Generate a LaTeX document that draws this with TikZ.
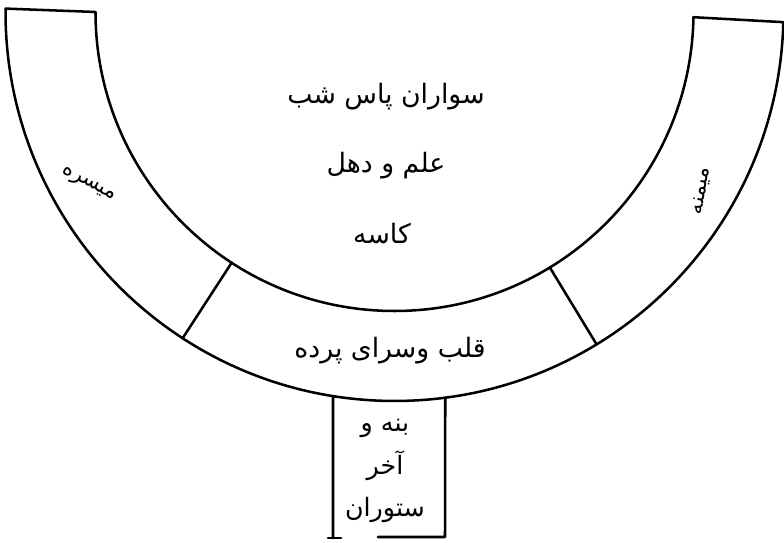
\documentclass[tikz,border=0pt]{standalone}
\usepackage{fontspec}
\usepackage{tikz}
\usetikzlibrary{positioning, calc}
\TeXXeTstate=1
\newfontfamily\arabicfont[Script=Arabic]{DejaVu Sans}
\tikzset{
  band line/.style={line width=1.8pt, line cap=round, line join=round},
  farsi/.style={font=\arabicfont\fontsize{19}{24}\selectfont, inner sep=1pt, align=center},
  wing/.style={farsi, font=\arabicfont\fontsize{15}{18}\selectfont},
}

\begin{document}
\begin{tikzpicture}[x=0.025cm, y=0.025cm]
    \useasboundingbox (0,0) rectangle (784,543);
    \coordinate (ctr) at (394.5,531);
    \coordinate (outL) at ($(ctr)+(179.5:389)$);
    \coordinate (inL) at ($(ctr)+(180:299)$);
    \coordinate (inR) at ($(ctr)+(359:299)$);
    \coordinate (outR) at ($(ctr)+(358.5:389)$);
    \draw[band line] (outL) -- (inL) arc[start angle=180, end angle=359, radius=299]
      -- (outR) arc[start angle=358.5, end angle=179.5, radius=389] -- cycle;
    \coordinate (divLin) at ($(ctr)+(237:299)$);
    \coordinate (divLout) at ($(ctr)+(237:389)$);
    \coordinate (divRin) at ($(ctr)+(301.3:299)$);
    \coordinate (divRout) at ($(ctr)+(301.3:389)$);
    \draw[band line] (divLin) -- (divLout);
    \draw[band line] (divRin) -- (divRout);
    \coordinate (stemL) at ($(ctr)+(260.9:389)$);
    \coordinate (stemR) at ($(ctr)+(277.5:389)$);
    \coordinate (footL) at (333,5);
    \coordinate (footR) at (445,6);
    \draw[band line] (stemL) -- (footL);
    \draw[band line] ($(footL)+(-5,0)$) -- ($(footL)+(8,0)$);
    \draw[band line] (stemR) -- (footR) -- (378,6);
    \node[farsi] (riders) at (386,446) {\beginR سواران پاس شب\endR};
    \node[farsi] (banner) at (386,377) {\beginR علم و دهل\endR};
    \node[farsi] (kettle) at (382,309) {\beginR کاسه\endR};
    \node[wing, rotate=-28] (leftwing) at (88,358) {\beginR میسره\endR};
    \node[wing, rotate=80] (rightwing) at (702,352) {\beginR میمنه\endR};
    \node[farsi] (centre) at (390,192) {\beginR قلب وسرای پرده\endR};
    \node[farsi, font=\arabicfont\fontsize{18}{30}\selectfont] (baggage) at (385,72)
      {\beginR بنه و\endR\\ \beginR آخر\endR\\ \beginR ستوران\endR};
\end{tikzpicture}
\end{document}
